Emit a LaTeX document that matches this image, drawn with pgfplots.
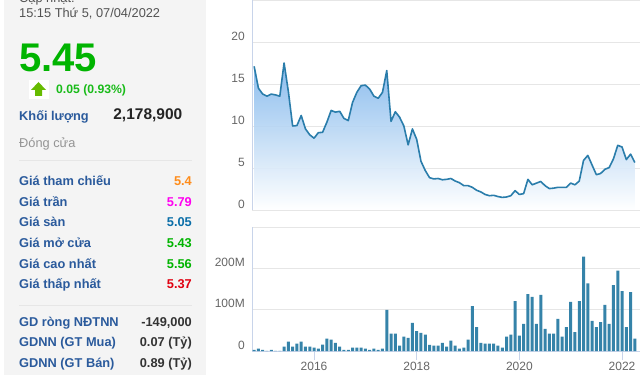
\documentclass[border=0pt]{standalone}
\usepackage{pgfplots}
\usepackage{pgfplotstable}
\usepackage{fontspec}
\setmainfont{Liberation Sans}
\pgfplotsset{compat=1.18}
\definecolor{panel}{HTML}{F4F4F4}
\definecolor{lbl}{HTML}{2A5A9C}
\definecolor{gridc}{HTML}{E6E6E6}
\definecolor{axisc}{HTML}{C8D4EA}
\definecolor{tickc}{HTML}{666666}
\definecolor{linec}{HTML}{2A7DAB}
\definecolor{barc}{HTML}{3583A9}
\definecolor{topfill}{HTML}{7FB6EC}
\definecolor{upg}{HTML}{00B400}
\definecolor{arrowg}{HTML}{66BB00}
\definecolor{orng}{HTML}{FF8C1A}
\definecolor{mag}{HTML}{FF00F0}
\definecolor{flr}{HTML}{0A6EA8}
\definecolor{rd}{HTML}{E00010}
\definecolor{drk}{HTML}{333333}
\newcommand{\fs}[1]{\fontsize{#1pt}{#1pt}\selectfont}
\pgfplotstableread{
m price
-14 17.1
-13 14.5
-12 13.8
-11 13.55
-10 13.8
-9 13.7
-8 13.55
-7 17.5
-6 14.1
-5 10.0
-4 10.05
-3 11.25
-2 9.65
-1 8.95
0 8.55
1 9.2
2 9.25
3 10.45
4 11.85
5 11.65
6 11.75
7 10.9
8 10.65
9 12.8
10 14.0
11 14.8
12 14.87
13 14.4
14 13.55
15 13.3
16 14.0
17 16.6
18 10.55
19 11.7
20 11.05
21 10.0
22 7.75
23 9.65
24 8.4
25 5.8
26 4.7
27 3.85
28 3.7
29 3.75
30 3.6
31 3.65
32 3.75
33 3.45
34 3.25
35 2.9
36 2.9
37 2.7
38 2.35
39 2.15
40 1.85
41 1.7
42 1.75
43 1.6
44 1.5
45 1.55
46 1.7
47 2.3
48 1.85
49 1.95
50 3.65
51 3.0
52 3.2
53 3.4
54 2.9
55 2.55
56 2.6
57 2.7
58 2.7
59 2.7
60 3.2
61 3.0
62 3.45
63 5.9
64 6.5
65 5.35
66 4.2
67 4.35
68 4.85
69 5.05
70 6.1
71 7.7
72 7.5
73 6.0
74 6.65
75 5.65
}\pricetable
\pgfplotstableread{
m vol
-14 2.5
-13 5.5
-12 2.5
-11 0.5
-10 3
-9 0.5
-8 0.5
-7 10.5
-6 22.5
-5 10.5
-4 18
-3 22.5
-2 10.5
-1 10.5
0 8
1 5.5
2 15.5
3 30
4 27.5
5 20
6 10.5
7 3
8 3
9 8
10 8
11 8
12 5.5
13 3
14 5.5
15 3
16 5.5
17 100
18 42
19 42
20 13
21 35
22 32
23 68
24 48.5
25 44
26 40
27 15
28 13
29 13
30 20
31 10.5
32 25
33 13
34 5.5
35 8
36 27.5
37 109
38 58
39 20
40 18
41 18
42 18
43 13
44 8
45 35
46 40
47 121
48 37
49 65.5
50 138
51 131
52 65.5
53 136
54 53.5
55 42
56 42
57 78
58 35
59 58
60 119
61 46
62 121
63 229
64 164
65 73
66 58
67 70
68 112
69 65.5
70 159.5
71 195
72 145
73 58
74 142.5
75 30
}\voltable
\newcommand{\tl}[5]{\node[anchor=base west,inner sep=0pt,text=#4] at (#1,{375-#2}) {\fs{#3}#5};}
\newcommand{\tr}[5]{\node[anchor=base east,inner sep=0pt,text=#4] at (#1,{375-#2}) {\fs{#3}\bfseries #5};}
\begin{document}
\begin{tikzpicture}[x=1pt,y=1pt]
\clip (0,0) rectangle (640,375);
\fill[white] (0,0) rectangle (640,375);
\fill[panel] (4,0) rectangle (206,375);
\tl{19}{3}{12.8}{drk!85}{Cập nhật:}
\tl{19}{17.5}{12.8}{drk!85}{15:15 Thứ 5, 07/04/2022}
\tl{19}{71.5}{40}{upg}{\bfseries 5.45}
\fill[white] (29,375-80) rectangle (48.5,375-99);
\fill[arrowg] (38.5,375-82) -- (46,375-90) -- (42,375-90) -- (42,375-96) -- (35,375-96) -- (35,375-90) -- (31,375-90) -- cycle;
\tl{56}{93.5}{12.2}{upg!90!white}{\bfseries 0.05 (0.93\%)}
\tl{19}{120.5}{12.8}{lbl}{\bfseries Khối lượng}
\tr{182.5}{119.5}{15.5}{drk!70!black}{2,178,900}
\tl{19}{147.5}{12.8}{black!42}{Đóng cửa}
\draw[gridc,line width=.7pt] (19,375-160) -- (192,375-160);
\tl{19}{185.5}{12.8}{lbl}{\bfseries Giá tham chiếu}\tr{192}{185.5}{12.8}{orng}{5.4}
\tl{19}{206.5}{12.8}{lbl}{\bfseries Giá trần}\tr{192}{206.5}{12.8}{mag}{5.79}
\tl{19}{227}{12.8}{lbl}{\bfseries Giá sàn}\tr{192}{227}{12.8}{flr}{5.05}
\tl{19}{247.5}{12.8}{lbl}{\bfseries Giá mở cửa}\tr{192}{247.5}{12.8}{upg}{5.43}
\tl{19}{268.5}{12.8}{lbl}{\bfseries Giá cao nhất}\tr{192}{268.5}{12.8}{upg}{5.56}
\tl{19}{289}{12.8}{lbl}{\bfseries Giá thấp nhất}\tr{192}{289}{12.8}{rd}{5.37}
\draw[gridc,line width=.7pt] (19,375-305.7) -- (192,375-305.7);
\tl{19}{326.5}{12.8}{lbl}{\bfseries GD ròng NĐTNN}\tr{192}{326.5}{12.8}{drk}{-149,000}
\tl{19}{347}{12.8}{lbl}{\bfseries GDNN (GT Mua)}\tr{192}{347}{12.8}{drk}{0.07 (Tỷ)}
\tl{19}{367.5}{12.8}{lbl}{\bfseries GDNN (GT Bán)}\tr{192}{367.5}{12.8}{drk}{0.89 (Tỷ)}

\begin{axis}[
  at={(252pt,165pt)},anchor=south west,
  scale only axis,width=388pt,height=210pt,
  xmin=-14.5,xmax=76.2,ymin=0,ymax=25,
  axis x line=bottom,axis y line=left,
  axis line style={-},
  x axis line style={draw=gridc,line width=.8pt},
  y axis line style={draw=axisc,line width=.9pt},
  xtick=\empty,
  ytick={0,5,10,15,20,25},yticklabels={0,5,10,15,20,},
  ymajorgrids,grid style={gridc,line width=.8pt},
  ytick style={draw=none},
  y tick label style={anchor=east,yshift=6pt,text=tickc,font=\fs{12},inner sep=0pt,xshift=-7pt},
  major tick length=0pt,
]
\addplot[draw=none,top color=topfill,bottom color=white,fill opacity=.9] table[x=m,y=price]{\pricetable} \closedcycle;
\addplot[linec,line width=1.6pt,line join=round] table[x=m,y=price]{\pricetable};
\end{axis}

\begin{axis}[
  at={(252pt,24pt)},anchor=south west,
  scale only axis,width=388pt,height=123.7pt,
  xmin=-14.5,xmax=76.2,ymin=0,ymax=300,
  axis x line=bottom,axis y line=left,
  axis line style={-},
  x axis line style={draw=axisc,line width=.8pt},
  y axis line style={draw=axisc,line width=.9pt},
  xtick={0,24,48,72},xticklabels={2016,2018,2020,2022},
  xtick style={draw=axisc,line width=.9pt},
  tick align=outside,major tick length=9pt,
  x tick label style={text=tickc,font=\fs{12},inner sep=0pt,anchor=base,yshift=-10pt},
  ytick={0,100,200,300},yticklabels={0,100M,200M,},
  ymajorgrids,grid style={gridc,line width=.8pt},
  ytick style={draw=none},
  y tick label style={anchor=east,yshift=6pt,text=tickc,font=\fs{12},inner sep=0pt,xshift=2pt},
]
\addplot[ybar,bar width=3pt,bar shift=0pt,fill=barc,draw=none] table[x=m,y=vol]{\voltable};
\end{axis}
\end{tikzpicture}
\end{document}
